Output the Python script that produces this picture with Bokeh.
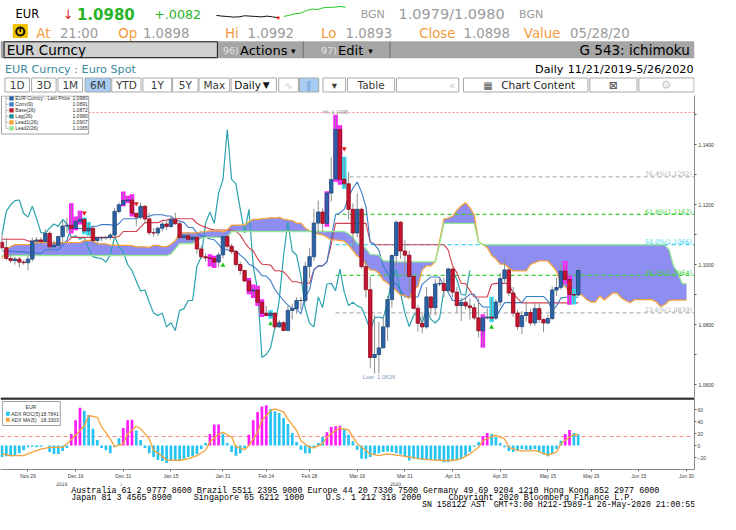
import numpy as np
from bokeh.plotting import figure
from bokeh.models import Range1d, Label, FixedTicker, PrintfTickFormatter, ColumnDataSource
from bokeh.layouts import column
from bokeh.embed import file_html
from bokeh.resources import INLINE
from bokeh.core.properties import value

# ======================= DATA =======================
# daily EUR Curncy candles, 11/21/2019 .. 5/26/2020 (weekday index 0..133)
opens = [1.1074,1.1056,1.1020,1.1013,1.1018,1.1008,1.1006,1.1018,1.1078,1.1082,
         1.1077,1.1104,1.1059,1.1064,1.1093,1.1128,1.1131,1.1120,1.1144,1.1151,
         1.1112,1.1121,1.1080,1.1089,1.1089,1.1090,1.1098,1.1177,1.1199,1.1213,
         1.1215,1.1171,1.1158,1.1194,1.1152,1.1106,1.1105,1.1121,1.1135,1.1127,
         1.1150,1.1136,1.1090,1.1096,1.1084,1.1091,1.1052,1.1026,1.1022,1.1020,
         1.1008,1.1032,1.1093,1.1061,1.1043,1.1000,1.0980,1.0945,1.0912,1.0915,
         1.0874,1.0838,1.0830,1.0838,1.0792,1.0806,1.0780,1.0847,1.0853,1.0880,
         1.0880,1.0994,1.1026,1.1138,1.1175,1.1137,1.1238,1.1285,1.1450,1.1284,
         1.1269,1.1184,1.1105,1.1184,1.0993,1.0916,1.0690,1.0700,1.0722,1.0792,
         1.0883,1.1030,1.1141,1.1045,1.1031,1.0960,1.0854,1.0804,1.0792,1.0892,
         1.0856,1.0935,1.0937,1.0913,1.0985,1.0908,1.0863,1.0874,1.0862,1.0856,
         1.0822,1.0779,1.0822,1.0825,1.0821,1.0875,1.0953,1.0982,1.0905,1.0838,
         1.0793,1.0830,1.0840,1.0805,1.0853,1.0817,1.0805,1.0820,1.0915,1.0923,
         1.0978,1.0950,1.0900,1.0898]
highs = [1.1097,1.1088,1.1034,1.1025,1.1025,1.1015,1.1030,1.1090,1.1091,1.1090,
         1.1117,1.1110,1.1080,1.1096,1.1145,1.1155,1.1200,1.1156,1.1175,1.1153,
         1.1138,1.1124,1.1092,1.1094,1.1095,1.1105,1.1188,1.1207,1.1239,1.1225,
         1.1230,1.1173,1.1206,1.1198,1.1172,1.1121,1.1126,1.1143,1.1146,1.1160,
         1.1173,1.1143,1.1100,1.1107,1.1098,1.1099,1.1063,1.1038,1.1030,1.1025,
         1.1040,1.1097,1.1096,1.1069,1.1048,1.1010,1.0982,1.0951,1.0929,1.0925,
         1.0880,1.0862,1.0844,1.0840,1.0815,1.0812,1.0863,1.0869,1.0891,1.0892,
         1.1009,1.1054,1.1186,1.1213,1.1187,1.1240,1.1357,1.1495,1.1460,1.1355,
         1.1308,1.1204,1.1237,1.1190,1.1015,1.0960,1.0832,1.0808,1.0829,1.0896,
         1.1033,1.1147,1.1145,1.1081,1.1045,1.0966,1.0866,1.0834,1.0925,1.0896,
         1.0952,1.0954,1.0955,1.0990,1.0988,1.0926,1.0890,1.0893,1.0887,1.0870,
         1.0886,1.0830,1.0855,1.0888,1.0884,1.0972,1.1019,1.0990,1.0925,1.0849,
         1.0845,1.0876,1.0852,1.0873,1.0870,1.0819,1.0833,1.0926,1.0955,1.1008,
         1.1008,1.0959,1.0915,1.0992]
lows = [1.1050,1.1014,1.1005,1.1000,1.0990,1.0999,1.0981,1.1010,1.1064,1.1066,
        1.1072,1.1040,1.1055,1.1057,1.1070,1.1105,1.1107,1.1118,1.1137,1.1105,
        1.1100,1.1066,1.1067,1.1078,1.1083,1.1082,1.1096,1.1170,1.1198,1.1209,
        1.1164,1.1128,1.1150,1.1136,1.1098,1.1093,1.1095,1.1110,1.1115,1.1122,
        1.1132,1.1083,1.1085,1.1074,1.1075,1.1036,1.1019,1.1010,1.0997,1.0992,
        1.0991,1.1020,1.1052,1.1035,1.0993,1.0966,1.0942,1.0905,1.0892,1.0866,
        1.0829,1.0827,1.0823,1.0785,1.0789,1.0778,1.0778,1.0817,1.0836,1.0849,
        1.0873,1.0953,1.1012,1.1105,1.1110,1.1130,1.1210,1.1280,1.1270,1.1256,
        1.1149,1.1054,1.1090,1.0985,1.0890,1.0654,1.0637,1.0636,1.0721,1.0745,
        1.0856,1.0995,1.1018,1.0956,1.0904,1.0850,1.0776,1.0770,1.0786,1.0832,
        1.0830,1.0928,1.0890,1.0906,1.0890,1.0840,1.0812,1.0850,1.0816,1.0815,
        1.0757,1.0727,1.0817,1.0812,1.0815,1.0861,1.0935,1.0895,1.0826,1.0782,
        1.0768,1.0810,1.0796,1.0796,1.0805,1.0774,1.0800,1.0814,1.0895,1.0916,
        1.0940,1.0870,1.0871,1.0893]
closes = [1.1056,1.1020,1.1013,1.1018,1.1008,1.1006,1.1018,1.1078,1.1082,1.1077,
          1.1104,1.1059,1.1064,1.1093,1.1128,1.1131,1.1120,1.1144,1.1151,1.1112,
          1.1121,1.1080,1.1089,1.1089,1.1090,1.1098,1.1177,1.1199,1.1213,1.1215,
          1.1171,1.1158,1.1194,1.1152,1.1106,1.1105,1.1121,1.1135,1.1127,1.1150,
          1.1136,1.1090,1.1096,1.1084,1.1091,1.1052,1.1026,1.1022,1.1020,1.1008,
          1.1032,1.1093,1.1061,1.1043,1.1000,1.0980,1.0945,1.0912,1.0915,1.0874,
          1.0838,1.0830,1.0838,1.0792,1.0806,1.0780,1.0847,1.0853,1.0880,1.0880,
          1.0994,1.1026,1.1138,1.1175,1.1137,1.1238,1.1283,1.1450,1.1284,1.1269,
          1.1184,1.1105,1.1184,1.0993,1.0916,1.0690,1.0700,1.0722,1.0792,1.0883,
          1.1030,1.1141,1.1045,1.1031,1.0960,1.0854,1.0804,1.0792,1.0892,1.0856,
          1.0935,1.0937,1.0913,1.0985,1.0908,1.0863,1.0874,1.0862,1.0856,1.0822,
          1.0779,1.0822,1.0825,1.0821,1.0875,1.0953,1.0982,1.0905,1.0838,1.0793,
          1.0830,1.0840,1.0805,1.0853,1.0817,1.0805,1.0820,1.0915,1.0923,1.0978,
          1.0950,1.0900,1.0898,1.0980]

# Conv(9) (blue) and Base(26) (red) lines, one value per candle
conv9 = [1.1045,1.1045,1.1044,1.1043,1.1043,1.1042,1.1040,1.1040,1.1039,1.1036,
         1.1049,1.1049,1.1049,1.1049,1.1063,1.10825,1.1120,1.1120,1.1120,1.1120,
         1.1120,1.11275,1.1128,1.1133,1.1133,1.1133,1.1127,1.11365,1.11525,1.11525,
         1.11525,1.11525,1.11585,1.1161,1.11605,1.1166,1.1166,1.1166,1.11615,1.11615,
         1.11495,1.11445,1.11405,1.11235,1.11235,1.11045,1.1096,1.10915,1.1085,1.10825,
         1.1067,1.1049,1.1049,1.1045,1.1045,1.10315,1.10195,1.1001,1.09945,1.09815,
         1.0963,1.09615,1.0946,1.09165,1.08975,1.0880,1.08645,1.08535,1.08515,1.0835,
         1.08935,1.0916,1.0982,1.09955,1.09955,1.1009,1.1087,1.1166,1.11725,1.11845,
         1.12245,1.1254,1.1275,1.12405,1.1193,1.1075,1.10665,1.1048,1.09955,1.0972,
         1.09365,1.09365,1.0913,1.08915,1.08915,1.08915,1.08915,1.0934,1.0946,1.09585,
         1.09585,1.09575,1.09255,1.09075,1.0880,1.0880,1.0880,1.0888,1.0901,1.0901,
         1.08735,1.08585,1.08585,1.08575,1.08265,1.08495,1.0873,1.0873,1.0873,1.0873,
         1.0873,1.08935,1.08935,1.08935,1.08935,1.08935,1.0879,1.0847,1.08615,1.0888,
         1.0891,1.0891,1.0891,1.0891]
base26 = [1.1084,1.1084,1.1084,1.1084,1.1084,1.1084,1.1078,1.1078,1.1078,1.1078,
          1.1078,1.1078,1.1070,1.1070,1.1072,1.1075,1.10905,1.10905,1.10905,1.10905,
          1.10905,1.10905,1.10905,1.10905,1.10905,1.10905,1.10905,1.1094,1.1110,1.1110,
          1.1110,1.1110,1.11245,1.11395,1.11395,1.11395,1.11395,1.1147,1.1148,1.11525,
          1.11525,1.11525,1.11525,1.11525,1.11525,1.11375,1.1129,1.11245,1.1118,1.11155,
          1.1115,1.1115,1.1115,1.1115,1.11105,1.1098,1.1074,1.10555,1.1045,1.10195,
          1.1001,1.1000,1.0998,1.0979,1.0979,1.09755,1.09605,1.09425,1.09425,1.09385,
          1.09385,1.09375,1.0982,1.09955,1.09955,1.1009,1.10675,1.1137,1.1137,1.1137,
          1.1137,1.1137,1.1137,1.1137,1.1137,1.1075,1.10665,1.1066,1.1066,1.1066,
          1.1066,1.1066,1.1066,1.1066,1.1066,1.1066,1.1066,1.1066,1.1066,1.1066,
          1.1066,1.1066,1.1066,1.1048,1.09955,1.0972,1.09365,1.09365,1.0913,1.08915,
          1.08915,1.08915,1.08915,1.0934,1.0937,1.0937,1.0937,1.0936,1.0904,1.0886,
          1.0872,1.0872,1.0872,1.0872,1.0872,1.0872,1.0872,1.0872,1.0872,1.0872,
          1.0872,1.0872,1.0872,1.0872]
# Lead1(26) (orange) and Lead2(26) (green) cloud edges, drawn 25 days ahead (index 0..158)
lead1 = [1.1020,1.1050,1.1060,1.1066,1.1066,1.1066,1.1066,1.1066,1.1073,1.1073,
         1.1073,1.1073,1.1073,1.1073,1.1073,1.1073,1.1073,1.1073,1.1073,1.1080,
         1.1080,1.1080,1.1069,1.1069,1.1069,1.10645,1.10645,1.1064,1.10635,1.10635,
         1.1063,1.1059,1.1059,1.10585,1.1057,1.10635,1.10635,1.10595,1.10595,1.10675,
         1.10788,1.11053,1.11053,1.11053,1.11053,1.11053,1.1109,1.11093,1.11118,1.11118,
         1.11118,1.11088,1.11153,1.11313,1.11313,1.11313,1.11313,1.11415,1.11503,1.1150,
         1.11528,1.11528,1.11565,1.11548,1.1157,1.1151,1.11485,1.11465,1.1138,1.1138,
         1.1121,1.11125,1.1108,1.11015,1.1099,1.1091,1.1082,1.1082,1.1080,1.10778,
         1.10648,1.10468,1.10283,1.10198,1.10005,1.0982,1.09808,1.0972,1.09478,1.09383,
         1.09278,1.09125,1.0898,1.0897,1.08868,1.0916,1.09268,1.0982,1.09955,1.09955,
         1.1009,1.10773,1.11515,1.11548,1.11608,1.11808,1.11955,1.1206,1.11888,1.1165,
         1.1075,1.10665,1.1057,1.10308,1.1019,1.10013,1.10013,1.09895,1.09788,1.09788,
         1.09788,1.09788,1.1000,1.1006,1.10123,1.10123,1.10118,1.09958,1.09778,1.09378,
         1.0926,1.09083,1.09123,1.0907,1.08963,1.08825,1.0875,1.0875,1.08958,1.08818,
         1.08933,1.0905,1.09045,1.08885,1.08795,1.08725,1.08828,1.08828,1.08828,1.08828,
         1.08828,1.08755,1.08595,1.08668,1.0880,1.08815,1.08815,1.08815,1.08815]
lead2 = [1.1030,1.1030,1.1030,1.1030,1.1030,1.1030,1.1030,1.1030,1.1030,1.1030,
         1.1030,1.1030,1.1030,1.1030,1.1030,1.1030,1.1030,1.1030,1.1030,1.1030,
         1.1030,1.1030,1.1030,1.1030,1.1030,1.1030,1.1030,1.1030,1.1030,1.1030,
         1.1030,1.1030,1.1030,1.1030,1.1030,1.1030,1.1030,1.1030,1.1030,1.1035,
         1.1052,1.1070,1.1070,1.1070,1.1070,1.1080,1.10875,1.10905,1.10905,1.10905,
         1.10905,1.10905,1.10905,1.1110,1.1110,1.1110,1.1110,1.1110,1.1110,1.1110,
         1.1110,1.1110,1.1110,1.1110,1.1110,1.1110,1.1110,1.1110,1.1110,1.1110,
         1.1110,1.1110,1.1110,1.1110,1.1110,1.1110,1.1110,1.1110,1.1110,1.1110,
         1.11025,1.10905,1.1072,1.10655,1.10525,1.1034,1.1033,1.1031,1.1012,1.1012,
         1.10085,1.10085,1.10085,1.10085,1.10085,1.10085,1.10085,1.10085,1.10085,1.10085,
         1.10085,1.10675,1.1137,1.1137,1.1137,1.1137,1.1137,1.1137,1.1137,1.1137,
         1.1075,1.10665,1.10655,1.10655,1.10655,1.10655,1.10655,1.10655,1.10655,1.10655,
         1.10655,1.10655,1.10655,1.10655,1.10655,1.10655,1.10655,1.10655,1.10655,1.10655,
         1.10655,1.10655,1.10655,1.10655,1.10655,1.10655,1.10655,1.10655,1.10655,1.10655,
         1.10655,1.10655,1.10655,1.10655,1.10655,1.10655,1.10655,1.10655,1.10655,1.10655,
         1.10655,1.10655,1.10655,1.10655,1.1048,1.09955,1.0972,1.0936,1.0936]
lag_shift = 25          # Lag(26): close drawn 25 sessions back

# ADX ROC(5) histogram and its MA(5) line (lower panel)
roc5 = [-19,-18,-18,-17,-13,-8,-3,-2,-3,-2,
        0,-11,-14,-14,-9,-4,19,42,63,58,
        51,28,9,-4,-8,-13,-3,12,29,42,
        43,25,9,-4,-13,-19,-24,-26,-29,-26,
        -25,-25,-22,-19,-18,-14,-6,4,19,35,
        35,19,4,-11,-17,-13,-4,18,42,56,
        65,67,61,57,54,46,36,21,6,-7,
        -13,-13,-4,4,14,22,31,32,33,28,
        18,7,-7,-22,-22,-19,-15,-13,-11,-10,
        -11,-13,-15,-18,-25,-22,-22,-24,-24,-24,
        -25,-25,-28,-28,-26,-25,-22,-17,-11,-2,
        6,16,21,19,14,4,-3,-9,-11,-8,
        -6,-7,-7,-6,-11,-15,-18,-14,-6,8,
        19,26,21,18.7841]
ma5_idx = [0,2,5,7,9,11,14,15,17,19,20,22,23,25,26,28,29,31,32,34,35,37,38,41,43,
           45,47,48,50,51,53,54,56,57,59,60,62,63,65,66,68,69,71,72,74,75,77,78,80,81,
           82,84,85,87,89,91,94,96,99,102,104,106,108,110,111,113,114,116,117,119,120,
           122,123,125,126,128,129,131,132,133]
ma5_val = [-14,-17,-17,-11,-6,-3,-3,3,17,33,50,47,31,11,-2,3,19,32,28,11,-8,-18,-24,-25,-22,
           -17,-8,6,19,22,14,-2,-7,0,22,42,58,61,56,44,25,8,-3,-4,3,14,25,29,26,14,
           3,-8,-14,-17,-14,-16,-19,-22,-24,-25,-25,-22,-14,-3,8,15,17,11,-3,-8,-9,
           -9,-8,-13,-16,-11,3,14,18,18.3303]
roc_threshold = 15

# Fibonacci retracement between the March high and low
fib_names = ["76.4%", "61.8%", "50.0%", "38.2%", "23.6%"]
fib_levels = [1.1292, 1.1167, 1.1066, 1.0964, 1.0839]
fib_start = 77
hi_idx, hi_val = 77, 1.1495
lo_idx, lo_val = 87, 1.0636
ref_line = 1.1507

# signal markers and highlighted candles
sell_idx = [19, 31, 79, 131]
sell_val = [1.1172, 1.1203, 1.1386, 1.0936]
buy_idx = [51, 62, 113]
buy_val = [1.0997, 1.0802, 1.0791]
magenta_idx = [16, 17, 18, 28, 29, 30, 48, 49, 57, 58, 59, 60, 75, 77, 78, 111, 130, 131]
cyan_idx = [19, 20, 62, 79, 113, 132]

# date axis
tick_idx = [6, 17, 28, 39, 51, 61, 71, 82, 93, 104, 115, 126, 136, 147, 158]
tick_lbl = ["Nov 29", "Dec 16", "Dec 31", "Jan 15", "Jan 31", "Feb 14", "Feb 28", "Mar 16",
            "Mar 31", "Apr 15", "Apr 30", "May 15", "May 29", "Jun 15", "Jun 30"]
year_lbl = ["2019", "2020"]

# legends (names and values as printed)
legend_names = ["EUR Curncy - Last Price", "Conv(9)", "Base(26)", "Lag(26)", "Lead1(26)", "Lead2(26)"]
legend_vals = ["1.0980", "1.0891", "1.0872", "1.0980", "1.0907", "1.1065"]
adx_names = ["ADX ROC(5)", "ADX MA(5)"]
adx_vals = ["18.7841", "18.3303"]

# intraday sparkline in the header
spark_prev = [1.0915, 1.0909, 1.0906, 1.0901, 1.0903, 1.0912, 1.0909, 1.0906, 1.0903, 1.0909, 1.0903, 1.0895]
spark_today = [1.0906, 1.0917, 1.0929, 1.0934, 1.0956, 1.0968, 1.0965, 1.0979, 1.0982, 1.0984, 1.0990, 1.0984]

N = len(closes)
assert len(opens) == N and len(highs) == N and len(lows) == N and N == 134
assert len(conv9) == N and len(base26) == N and len(roc5) == N
assert len(lead1) == 159 and len(lead2) == 159
assert len(ma5_idx) == len(ma5_val)

# ======================= STYLE / LAYOUT =======================
FONT = "DejaVu Sans"
SMALL = "Liberation Sans"
MONO = "Liberation Mono"
GRAY = "#9a9a9a"
ORANGE = "#f39a3c"
UP, UP_EDGE = "#2b63a6", "#1d4677"
DN, DN_EDGE = "#c8142f", "#8c0d20"
C_CONV, C_BASE, C_LAG = "#3a7cc8", "#d2414f", "#2aa3ad"
C_L1, C_L2, C_CLOUD = "#f5a33a", "#93e893", "#8d8df2"
MAG, CYA = "#ff1aff", "#2ee0f5"

# reference-pixel -> data helpers (layout only)
def XI(px): return (px - 3.5) / 4.42
def PY(py): return 1.1 + (264.0 - py) / 3000.0
def RV(py): return (445.0 - py) / 0.6

def lab(fig, x, y, text, size, color="#000000", font=FONT, style="normal", align="left",
        baseline="middle", bg=None, pad=0):
    kw = dict(x=x, y=y, text=text, text_font=font, text_font_size=f"{size}px", text_color=color,
              text_font_style=style, text_align=align, text_baseline=baseline)
    if bg is not None:
        kw.update(background_fill_color=bg, padding=pad)
    fig.add_layout(Label(**kw))

def nogrid(fig):
    fig.xgrid.visible = False
    fig.ygrid.visible = False

# ----------------------- header -----------------------
hdr = figure(width=720, height=95, x_range=Range1d(0, 736), y_range=Range1d(95, 0),
             output_backend="svg", toolbar_location=None, x_axis_location=None, y_axis_location=None,
             min_border=0, outline_line_color=None, background_fill_color="white", border_fill_color="white")
nogrid(hdr)

lab(hdr, 16, 13.5, "EUR", 11.5)
lab(hdr, 66, 13.5, "↓", 13, "#e02828")
lab(hdr, 81, 13.5, "1.0980", 15, "#28b428", style="bold")
lab(hdr, 163, 13.5, "+.0082", 12.7, "#28b428")
lab(hdr, 382, 13.5, "BGN", 11, GRAY)
lab(hdr, 422, 13.5, "1.0979/1.0980", 14.5, GRAY)
lab(hdr, 550, 13.5, "BGN", 11, GRAY)

n_sp = len(spark_prev) + len(spark_today)
sx0, sx1 = 229.0, 366.0
step = (sx1 - sx0) / (n_sp - 1)
p_lo, p_hi, y_lo, y_hi = 1.0895, 1.0990, 17.3, 6.0
k = (p_hi - p_lo) / (y_lo - y_hi)
hdr.extra_x_ranges = {"spk": Range1d(-sx0 / step, (736 - sx0) / step)}
hdr.extra_y_ranges = {"spk": Range1d(p_lo - (95 - y_lo) * k, p_lo + y_lo * k)}
prev_x = list(range(len(spark_prev)))
today_x = list(range(len(spark_prev), n_sp))
hdr.line(prev_x, spark_prev, x_range_name="spk", y_range_name="spk", line_color="#111111", line_width=1)
hdr.line(today_x, spark_today, x_range_name="spk", y_range_name="spk", line_color="#22cc22", line_width=1)
hdr.scatter([prev_x[-1]], [spark_prev[-1]], x_range_name="spk", y_range_name="spk", size=3,
            fill_color="#ff2020", line_color=None)

# row 2
hdr.quad(left=[13], right=[29], top=[23.5], bottom=[37.5], fill_color="#f2c200", line_color=None)
hdr.annulus(x=[21], y=[31], inner_radius=3.2, outer_radius=5.4, fill_color="#111111", line_color=None)
hdr.quad(left=[20.2], right=[21.8], top=[27], bottom=[31.5], fill_color="#111111", line_color=None)
row2 = [(38, "At", ORANGE), (63, "21:00", GRAY), (125, "Op", ORANGE), (151, "1.0898", GRAY),
        (238, "Hi", ORANGE), (262, "1.0992", GRAY), (340, "Lo", ORANGE), (366, "1.0893", GRAY),
        (444, "Close", ORANGE), (491, "1.0898", GRAY), (555, "Value", ORANGE), (604, "05/28/20", GRAY)]
for x, t, c in row2:
    lab(hdr, x, 32.5, t, 13.3, c)

# row 3: security bar
hdr.quad(left=[0], right=[736], top=[40.7], bottom=[57.7], fill_color="#a6a6a6", line_color=None)
hdr.quad(left=[3.8], right=[230], top=[41.3], bottom=[57.2], fill_color="#d0d0d0", line_color="#1a1a1a")
lab(hdr, 6.5, 49.6, "EUR Curncy", 13.5)
lab(hdr, 236, 49.6, "96)", 9.5, "#e2e2e2")
lab(hdr, 254, 49.6, "Actions", 13)
lab(hdr, 308, 50.5, "▾", 9)
hdr.segment(x0=[321, 413], y0=[41, 41], x1=[321, 413], y1=[57.4, 57.4], line_color="#6a6a6a")
lab(hdr, 340, 49.6, "97)", 9.5, "#e2e2e2")
lab(hdr, 358, 49.6, "Edit", 13)
lab(hdr, 390, 50.5, "▾", 9)
lab(hdr, 731, 49.6, "G 543: ichimoku", 13.5, align="right")

# row 4
lab(hdr, 4.7, 69, "EUR Curncy : Euro Spot", 11.2, "#3b8a9c")
lab(hdr, 597, 69, "Daily", 11.2, align="right")
lab(hdr, 735, 69, "11/21/2019-5/26/2020", 11.2, align="right")

# row 5: buttons
cells = [(4.7, 30.7, "1D", "#ffffff"), (33, 59, "3D", "#ffffff"), (61, 87, "1M", "#ffffff"),
         (89.7, 117, "6M", "#a9cdf2"), (118, 149, "YTD", "#ffffff"), (151, 181.5, "1Y", "#ffffff"),
         (182.5, 209.5, "5Y", "#ffffff"), (210.5, 243, "Max", "#ffffff"), (244.5, 292.6, "", "#ffffff"),
         (295, 316, "", "#ffffff"), (317, 337.5, "", "#a9cdf2"), (342, 366, "▾", "#ffffff"),
         (368, 418, "Table", "#ffffff"), (420, 486, "", "#ffffff"), (491, 623, "", "#ffffff"),
         (625, 675, "", "#ffffff"), (677, 735.5, "", "#ffffff")]
hdr.quad(left=[c[0] for c in cells], right=[c[1] for c in cells], top=[77.5] * len(cells),
         bottom=[91.5] * len(cells), fill_color=[c[3] for c in cells], line_color="#a8a8a8")
for x0, x1, t, _ in cells:
    if t:
        lab(hdr, (x0 + x1) / 2, 84.5, t, 10.5, "#3a3a3a", align="center")
lab(hdr, 248, 84.5, "Daily", 10.5, "#111111")
lab(hdr, 278, 84.5, "▼", 9, "#111111")
lab(hdr, 305.5, 84.5, "∿", 10, "#cccccc", align="center")
lab(hdr, 327, 84.5, "‖", 10, "#6f9fd8", align="center")
lab(hdr, 479, 84.5, "«", 11, "#c8c8c8", align="center")
lab(hdr, 517, 84.5, "▦", 10, "#555555", align="center")
lab(hdr, 531, 84.5, "Chart Content", 10.5, "#222222")
lab(hdr, 650, 84.5, "⊠", 11, "#444444", align="center")
lab(hdr, 706, 84.5, "⚙", 12, "#c8c8c8", align="center")

# ----------------------- main ichimoku panel -----------------------
idx = np.arange(N)
o, h, l, c = (np.array(v) for v in (opens, highs, lows, closes))
x_end = XI(710)
main = figure(frame_width=694, frame_height=302, x_range=Range1d(XI(2), x_end),
              y_range=Range1d(PY(397), PY(95)), output_backend="svg", toolbar_location=None,
              x_axis_location=None, y_axis_location="right", min_border_left=0, min_border_right=26,
              min_border_top=0, min_border_bottom=0, outline_line_color=None,
              background_fill_color="white", border_fill_color="white")
nogrid(main)

lead_x = np.arange(len(lead1))
main.varea(x=lead_x, y1=lead1, y2=lead2, fill_color=C_CLOUD, fill_alpha=1.0)
main.hspan(y=[ref_line], line_color="#ff8c8c", line_dash="2 2", line_width=1)
fib_colors = ["#b4b4b4", "#3ad03a", "#3ed4f2", "#3ad03a", "#b4b4b4"]
main.segment(x0=[fib_start] * len(fib_levels), y0=fib_levels, x1=[x_end] * len(fib_levels), y1=fib_levels,
             line_color=fib_colors, line_dash="4 3", line_width=1.3)
main.line(idx[lag_shift:] - lag_shift, c[lag_shift:], line_color=C_LAG, line_width=1.2)
main.line(idx, base26, line_color=C_BASE, line_width=1.1)
main.line(idx, conv9, line_color=C_CONV, line_width=1.1)
main.line(lead_x, lead1, line_color=C_L1, line_width=1.3)
main.line(lead_x, lead2, line_color=C_L2, line_width=1.3)

for hl, col in ((magenta_idx, MAG), (cyan_idx, CYA)):
    main.vbar(x=hl, width=1.05, top=[highs[i] + 0.0004 for i in hl], bottom=[lows[i] - 0.0004 for i in hl],
              fill_color=col, line_color=None)
up = c >= o
main.segment(x0=idx, y0=l, x1=idx, y1=h, line_color="#8f8f8f", line_width=1)
main.vbar(x=idx, width=0.8, top=np.maximum(o, c), bottom=np.minimum(o, c),
          fill_color=[UP if u else DN for u in up], line_color=[UP_EDGE if u else DN_EDGE for u in up],
          line_width=0.8)
main.scatter(sell_idx, sell_val, marker="inverted_triangle", size=5, fill_color="#e02020", line_color=None)
main.scatter(buy_idx, buy_val, marker="triangle", size=5, fill_color="#22c422", line_color=None)

fib_text = [f"{n}({v:.4f})" for n, v in zip(fib_names, fib_levels)]
main.text(x=[XI(707.5)] * len(fib_levels), y=[v + 0.0010 for v in fib_levels], text=fib_text,
          text_color=fib_colors, text_font=value(FONT), text_font_size="6.3px", text_align="right",
          text_baseline="middle")
main.text(x=[hi_idx], y=[hi_val + 0.0013], text=[f"Hi: {hi_val:.4f}"], text_color="#8796a8",
          text_font=value(SMALL), text_font_size="5.5px", text_align="center", text_baseline="middle")
main.text(x=[lo_idx], y=[lo_val - 0.0012], text=[f"Low: {lo_val:.4f}"], text_color="#7f98b8",
          text_font=value(SMALL), text_font_size="6px", text_align="center", text_baseline="middle")

# legend box (top-left)
main.quad(left=[XI(3)], right=[XI(92)], top=[PY(95.5)], bottom=[PY(133.5)], fill_color="white",
          line_color="#a0a0a0")
rows = [97.8 + 6 * r for r in range(len(legend_names))]
leg_cols = [UP, C_CONV, "#b41e32", "#1f8a96", C_L1, C_L2]
main.segment(x0=[XI(7.5)], y0=[PY(95.5)], x1=[XI(7.5)], y1=[PY(rows[-1])], line_color="#b8b8b8")
main.segment(x0=[XI(7.5)] * len(rows), y0=[PY(r) for r in rows], x1=[XI(10.5)] * len(rows),
             y1=[PY(r) for r in rows], line_color="#b8b8b8")
main.quad(left=[XI(11)] * len(rows), right=[XI(15.5)] * len(rows), top=[PY(r - 2.1) for r in rows],
          bottom=[PY(r + 2.1) for r in rows], fill_color=leg_cols, line_color=None)
main.text(x=[XI(17)] * len(rows), y=[PY(r) for r in rows], text=legend_names, text_color="#303030",
          text_font=value(SMALL), text_font_size="5px", text_baseline="middle")
main.text(x=[XI(91)] * len(rows), y=[PY(r) for r in rows], text=legend_vals, text_color="#303030",
          text_font=value(SMALL), text_font_size="5px", text_baseline="middle", text_align="right")

main.yaxis.ticker = FixedTicker(ticks=[1.06, 1.08, 1.10, 1.12, 1.14], minor_ticks=[1.07, 1.09, 1.11, 1.13, 1.15])
main.yaxis.formatter = PrintfTickFormatter(format="%.4f")
for ax in main.yaxis:
    ax.major_label_text_font = SMALL
    ax.major_label_text_font_size = "5px"
    ax.major_label_text_color = "#303030"
    ax.axis_line_color = "#8a8a8a"
    ax.major_tick_line_color = "#555555"
    ax.minor_tick_line_color = "#555555"
    ax.major_tick_in, ax.major_tick_out = 0, 2
    ax.minor_tick_in, ax.minor_tick_out = 0, 2
    ax.major_label_standoff = 2

# right-axis value boxes
box_x = XI(712.5)
axis_boxes = [(ref_line, "#e00000", "white"), (closes[-1], "#2a5f9e", "white"),
              (lead2[-1], "#90ee90", "#103010"), (conv9[-1], "#2a66ad", "white"),
              (base26[-1], "#c41e34", "white")]
for v, bg, fg in axis_boxes:
    lab(main, box_x, v, f"{v:.4f}", 5, fg, font=SMALL, bg=bg, pad=1)

# ----------------------- lower ADX panel -----------------------
low = figure(frame_width=694, frame_height=72, x_range=main.x_range, y_range=Range1d(RV(469), RV(397)),
             output_backend="svg", toolbar_location=None, x_axis_location="below", y_axis_location="right",
             min_border_left=0, min_border_right=26, min_border_top=0, min_border_bottom=13,
             outline_line_color=None, background_fill_color="white", border_fill_color="white")
nogrid(low)
low.hspan(y=[RV(398)], line_color="#2a2a2a", line_width=2.5)
low.hspan(y=[roc_threshold], line_color="#ff8a8a", line_dash="4 3", line_width=1)
bar_cols = [MAG if (v > roc_threshold and (i == 0 or v >= roc5[i - 1])) else "#26c4f2"
            for i, v in enumerate(roc5)]
low.vbar(x=idx, width=0.62, top=roc5, bottom=0, fill_color=bar_cols, line_color=None)
low.line(ma5_idx, ma5_val, line_color=C_L1, line_width=1.3)

low.quad(left=[XI(4)], right=[XI(63)], top=[RV(401)], bottom=[RV(425)], fill_color="white",
         line_color="#a0a0a0")
low.text(x=[XI(33)], y=[RV(406.7)], text=["EUR"], text_color="#303030", text_font=value(SMALL),
         text_font_size="5px", text_align="center", text_baseline="middle")
arows = [413.3, 419.3]
low.quad(left=[XI(7.5)] * 2, right=[XI(11.5)] * 2, top=[RV(r - 2) for r in arows],
         bottom=[RV(r + 2) for r in arows], fill_color=["#26c4f2", C_L1], line_color=None)
low.text(x=[XI(13)] * 2, y=[RV(r) for r in arows], text=adx_names, text_color="#303030",
         text_font=value(SMALL), text_font_size="5px", text_baseline="middle")
low.text(x=[XI(61.5)] * 2, y=[RV(r) for r in arows], text=adx_vals, text_color="#303030",
         text_font=value(SMALL), text_font_size="5px", text_baseline="middle", text_align="right")

low.yaxis.ticker = FixedTicker(ticks=[-20, 0, 20, 40, 60])
low.xaxis.ticker = FixedTicker(ticks=tick_idx)
low.xaxis.major_label_overrides = {t: s for t, s in zip(tick_idx, tick_lbl)}
for ax in list(low.yaxis) + list(low.xaxis):
    ax.major_label_text_font = SMALL
    ax.major_label_text_font_size = "5px"
    ax.major_label_text_color = "#404040"
    ax.axis_line_color = "#8a8a8a"
    ax.major_tick_line_color = "#666666"
    ax.minor_tick_line_color = None
    ax.major_tick_in, ax.major_tick_out = 0, 2
    ax.major_label_standoff = 1
lab(low, box_x, roc5[-1], f"{roc5[-1]:.4f}", 5, "#0a2030", font=SMALL, bg="#2ec5f0", pad=1)

# ----------------------- footer -----------------------
ftr = figure(width=720, height=28, x_range=Range1d(0, 736), y_range=Range1d(510, 482),
             output_backend="svg", toolbar_location=None, x_axis_location=None, y_axis_location=None,
             min_border=0, outline_line_color=None, background_fill_color="white", border_fill_color="white")
nogrid(ftr)
# year captions under the date axis
lab(ftr, 65, 483.6, year_lbl[0], 5, "#404040", font=SMALL, align="center")
lab(ftr, 419, 483.6, year_lbl[1], 5, "#404040", font=SMALL, align="center")
ftr.segment(x0=[128], y0=[482], x1=[128], y1=[486], line_color="#c4c4c4", line_width=1)
lab(ftr, 75, 490.8, "Australia 61 2 9777 8600 Brazil 5511 2395 9000 Europe 44 20 7330 7500 Germany 49 69 9204 1210 Hong Kong 852 2977 6000", 8.4, font=MONO)
lab(ftr, 75, 497.2, "Japan 81 3 4565 8900", 8.4, font=MONO)
lab(ftr, 205, 497.2, "Singapore 65 6212 1000", 8.4, font=MONO)
lab(ftr, 345, 497.2, "U.S. 1 212 318 2000", 8.4, font=MONO)
lab(ftr, 475, 497.2, "Copyright 2020 Bloomberg Finance L.P.", 8.4, font=MONO)
lab(ftr, 447, 503.6, "SN 158122 AST", 8.2, font=MONO)
lab(ftr, 523, 503.6, "GMT+3:00 H212-1989-1 26-May-2020 21:00:55", 8.2, font=MONO)

layout = column(hdr, main, low, ftr, spacing=0)
open("out.html", "w").write(file_html(layout, INLINE, "EUR Curncy ichimoku"))
